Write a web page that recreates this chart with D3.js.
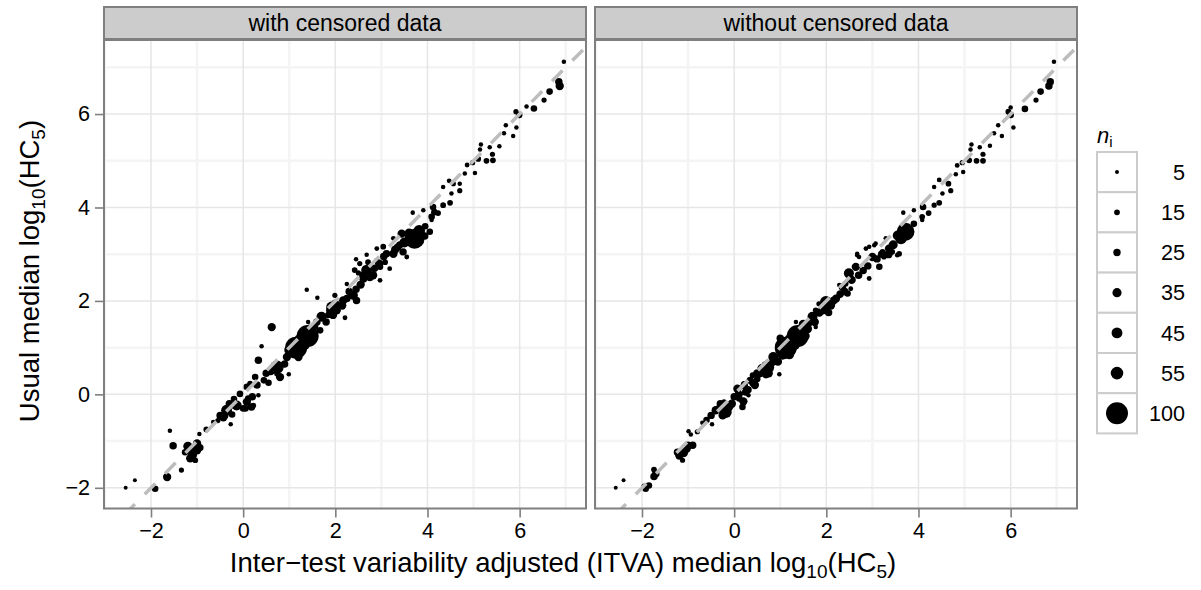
<!DOCTYPE html>
<html><head><meta charset="utf-8">
<script src="https://cdn.jsdelivr.net/npm/d3@7"></script>
<style>body{margin:0;background:#fff;} svg text{font-family:"Liberation Sans",Arial,Helvetica,sans-serif;}</style>
</head><body><svg id="c" width="1201" height="590"></svg>
<script>
const panels = ["with censored data", "without censored data"];
const xTicks = [-2, 0, 2, 4, 6];
const yTicks = [-2, 0, 2, 4, 6];
const xMinor = [-3, -1, 1, 3, 5, 7];
const yMinor = [-1, 1, 3, 5, 7];
const sizeBreaks = [5, 15, 25, 35, 45, 55, 100];

const withX = [-2.55,-2.35,-1.91,-1.65,-1.34,-1.59,-1.52,-0.95,-1.20,-1.09,-1.00,-1.15,-1.04,-0.94,-1.26,-0.65,-0.27,0.33,0.99,-0.36,-0.14,0.08,0.18,-0.50,-0.24,-0.55,0.08,0.26,0.73,0.22,0.15,0.33,0.40,0.62,0.73,0.80,1.15,1.40,1.41,1.67,1.38,1.61,1.70,1.92,2.03,2.21,2.25,2.17,2.39,2.46,2.45,2.50,2.68,2.68,2.61,2.82,2.97,2.90,3.04,3.11,3.26,3.18,3.26,3.44,3.47,3.55,3.72,3.82,3.94,4.05,4.09,3.68,3.91,4.09,4.23,4.12,4.34,4.49,4.52,4.70,4.70,4.56,4.34,4.47,4.81,5.03,4.86,4.98,5.10,5.28,5.42,5.41,5.16,5.14,5.35,5.56,5.66,5.70,5.86,5.93,5.92,5.99,6.15,6.31,6.53,6.65,6.85,6.87,6.96,2.42,2.53,2.71,2.90,3.08,2.97,1.88,2.06,1.99,-0.07,0.11,-0.18,-0.43,0.95,1.55,1.85,2.30,2.85,3.40,0.50,-0.80,0.00,
  0.30,0.45,0.60,0.90,1.00,1.20,1.28,1.45,1.55,1.80,1.95,2.15,2.25,2.55,2.60,2.75,2.95,3.05,3.30,3.50,3.60,3.95,4.15,-0.40,-0.20,0.05,-1.10,-1.00,-1.18,
  0.20,0.55,1.60,2.00,2.45,3.35,-0.30];
const withY = [-2.00,-1.84,-2.02,-1.77,-1.62,-0.78,-1.10,-0.85,-1.11,-1.20,-1.05,-1.37,-1.41,-1.14,-1.24,-0.59,-0.64,-0.02,0.43,-0.34,-0.24,-0.16,-0.27,-0.45,-0.43,-0.56,0.16,0.37,0.44,-0.24,0.23,0.73,1.03,1.44,0.58,0.37,1.00,1.25,1.55,1.37,2.24,2.07,1.66,1.87,1.80,1.64,2.36,2.01,2.12,2.01,2.89,2.60,2.99,2.66,2.48,2.55,2.44,3.12,3.16,3.01,3.01,2.69,3.34,3.44,3.05,2.94,3.33,3.50,3.39,3.48,3.73,3.89,3.94,3.80,3.88,4.01,4.05,4.10,4.30,4.36,4.51,4.51,4.44,4.57,4.73,4.74,4.91,4.96,5.04,5.00,5.01,5.14,5.35,5.24,5.29,5.31,5.59,5.76,5.53,5.71,6.05,5.98,6.16,6.12,6.30,6.48,6.69,6.60,7.12,2.66,2.80,2.83,2.87,2.83,2.73,1.80,1.91,2.12,0.01,-0.09,-0.24,-0.49,0.80,1.45,1.70,2.20,2.70,3.20,0.45,-0.75,-0.30,
  0.20,0.30,0.50,0.65,0.95,0.80,1.12,1.40,1.30,1.55,1.70,1.90,2.05,2.35,2.55,2.50,2.80,2.95,3.10,3.25,3.45,3.60,3.90,-0.45,-0.10,-0.30,-1.30,-1.20,-1.18,
  -0.05,0.25,1.55,1.95,2.25,3.15,-0.20];
const withN = [5,5,20,30,12,8,25,8,35,40,30,30,15,25,20,8,8,8,8,45,40,30,25,25,20,12,20,20,12,15,15,25,8,30,60,30,100,100,8,20,8,8,40,45,30,10,8,30,35,25,8,12,8,45,30,30,10,10,15,25,30,10,10,30,25,10,90,50,25,20,8,8,8,20,15,20,15,15,8,12,8,12,8,10,8,8,10,12,15,15,15,12,8,8,8,8,8,8,8,8,12,20,8,20,12,20,25,30,8,15,12,15,12,15,20,25,20,12,20,20,25,30,30,25,20,25,25,25,25,15,20,
  25,20,30,25,40,30,80,35,20,25,30,30,25,30,25,25,30,25,30,40,35,20,20,25,20,20,35,30,30,
  25,20,25,25,25,25,25];

const withoutX = [-2.57,-2.40,-1.92,-1.95,-1.74,-1.74,-0.99,-0.94,-1.19,-1.05,-0.90,-1.12,-1.23,-0.69,-0.48,-0.40,-0.18,-0.11,-0.22,0.18,0.07,0.22,0.31,0.40,0.69,0.98,0.11,0.21,0.40,0.72,0.94,1.12,1.38,1.34,1.70,1.77,1.99,1.92,2.21,2.46,2.42,2.28,2.49,2.64,2.71,2.93,2.67,3.00,3.15,2.93,3.04,3.22,3.36,3.58,3.29,3.72,3.62,4.08,3.67,3.90,4.08,4.22,4.10,4.34,4.45,4.52,4.70,4.65,4.34,4.45,4.81,4.97,4.84,4.95,5.10,5.26,5.40,5.40,5.15,5.13,5.33,5.55,5.64,5.73,5.81,6.06,5.95,6.00,6.00,6.31,6.55,6.65,6.86,6.83,6.94,2.67,2.86,3.07,3.25,3.43,3.54,2.28,2.53,1.77,1.84,-0.30,0.00,0.50,1.05,1.50,0.55,-0.60,0.30,0.85,1.60,2.10,2.35,2.80,3.20,-0.80,
  -0.50,-0.30,-0.05,0.10,0.25,0.35,0.50,0.60,0.85,0.95,1.00,1.20,1.26,1.50,1.60,1.85,2.00,2.15,2.30,2.55,2.70,2.90,3.10,3.45,3.55,3.90,-1.10,-1.00,-1.70,-1.85,
  0.20,0.45,0.75,1.55,1.75,2.05,-0.25,2.40,3.35];
const withoutY = [-2.00,-1.84,-2.02,-1.97,-1.76,-1.61,-0.79,-0.86,-1.31,-1.16,-1.09,-1.41,-1.24,-0.61,-0.64,-0.34,-0.38,-0.27,-0.16,-0.27,0.12,0.19,-0.02,0.41,0.44,0.43,-0.09,0.23,0.24,0.58,1.05,1.00,1.25,1.55,1.66,1.44,1.98,1.80,2.05,2.16,2.37,2.34,2.59,2.73,2.94,2.48,3.01,2.94,2.73,3.16,3.19,3.05,3.12,3.01,3.34,3.48,3.34,3.73,3.89,3.94,3.80,3.88,4.01,4.05,4.10,4.30,4.36,4.51,4.44,4.59,4.71,4.76,4.90,4.96,5.01,5.00,5.00,5.14,5.35,5.24,5.29,5.32,5.59,5.76,5.53,5.71,6.05,5.98,6.14,6.11,6.30,6.48,6.69,6.60,7.12,2.98,3.12,3.23,2.94,3.05,2.98,2.12,2.26,1.80,1.94,-0.30,-0.05,0.33,0.85,1.35,0.45,-0.55,0.10,0.70,1.50,1.90,2.30,2.65,3.00,-0.80,
  -0.45,-0.20,-0.20,0.00,0.05,0.30,0.45,0.55,0.80,0.70,1.20,0.85,1.12,1.50,1.40,1.75,1.85,2.00,2.15,2.45,2.55,2.75,2.90,3.20,3.40,3.65,-1.25,-1.10,-1.70,-1.95,
  -0.15,0.20,0.45,1.25,1.55,1.75,-0.45,2.20,3.00];
const withoutN = [5,5,20,15,25,15,8,8,30,40,25,12,25,8,8,30,50,30,12,20,30,25,8,15,35,8,20,12,20,60,8,100,100,8,40,8,50,30,30,20,15,8,40,30,8,10,8,30,20,8,8,15,30,15,8,80,50,8,8,8,15,15,20,12,15,8,12,15,8,10,8,8,10,12,15,15,15,12,8,8,8,8,8,8,8,8,15,20,8,20,12,20,25,25,8,8,10,8,12,15,10,15,10,15,12,35,25,20,40,35,30,20,25,30,30,30,25,25,25,12,
  25,25,30,30,25,25,30,35,40,30,25,35,80,35,30,30,30,30,25,30,25,25,25,35,40,20,35,30,25,20,
  30,30,30,30,30,25,30,25,30];

const panelX = [withX, withoutX], panelY = [withY, withoutY], panelN = [withN, withoutN];

const svg = d3.select('#c');
const W = 482, H = 468.5, panelLeft = [104, 595], panelTop = 40;
const x = d3.scaleLinear().domain([-3.02, 7.44]).range([0, W]);
const y = d3.scaleLinear().domain([-2.443, 7.585]).range([H, 0]);
const r = d3.scaleLinear().domain([5, 55, 100]).range([2, 6.3, 11]);
const fmt = d => d3.format("d")(d);

svg.append("defs").append("clipPath").attr("id", "clipP")
  .append("rect").attr("width", W).attr("height", H);

panels.forEach((name, pi) => {
  const g = svg.append("g").attr("transform", `translate(${panelLeft[pi]},${panelTop})`);
  g.append("rect").attr("width", W).attr("height", H).attr("fill", "#fff");
  const grid = g.append("g").attr("clip-path", "url(#clipP)");
  grid.selectAll(".vminor").data(xMinor).join("line")
    .attr("x1", d => x(d)).attr("x2", d => x(d)).attr("y1", 0).attr("y2", H)
    .attr("stroke", "#f4f4f4").attr("stroke-width", 2.5);
  grid.selectAll(".hminor").data(yMinor).join("line")
    .attr("y1", d => y(d)).attr("y2", d => y(d)).attr("x1", 0).attr("x2", W)
    .attr("stroke", "#f4f4f4").attr("stroke-width", 2.5);
  grid.selectAll(".vmajor").data(xTicks).join("line")
    .attr("x1", d => x(d)).attr("x2", d => x(d)).attr("y1", 0).attr("y2", H)
    .attr("stroke", "#e6e6e6").attr("stroke-width", 1.5);
  grid.selectAll(".hmajor").data(yTicks).join("line")
    .attr("y1", d => y(d)).attr("y2", d => y(d)).attr("x1", 0).attr("x2", W)
    .attr("stroke", "#e6e6e6").attr("stroke-width", 1.5);

  const idx = d3.range(panelX[pi].length).sort((a, b) => panelN[pi][b] - panelN[pi][a]);
  const pts = g.append("g").attr("clip-path", "url(#clipP)");
  pts.selectAll("circle").data(idx).join("circle")
    .attr("cx", i => x(panelX[pi][i])).attr("cy", i => y(panelY[pi][i]))
    .attr("r", i => r(panelN[pi][i])).attr("fill", "#000");

  const dom = x.domain();
  g.append("line").attr("clip-path", "url(#clipP)")
    .attr("x1", x(dom[0])).attr("y1", y(dom[0])).attr("x2", x(dom[1])).attr("y2", y(dom[1]))
    .attr("stroke", "#bdbdbd").attr("stroke-width", 3.5).attr("stroke-dasharray", "15,14");

  g.append("rect").attr("width", W).attr("height", H).attr("fill", "none")
    .attr("stroke", "#7f7f7f").attr("stroke-width", 2);

  // strip
  g.append("rect").attr("x", 0).attr("y", -33).attr("width", W).attr("height", 32)
    .attr("fill", "#cccccc").attr("stroke", "#7f7f7f").attr("stroke-width", 2);
  g.append("text").attr("x", W / 2).attr("y", -9).attr("text-anchor", "middle")
    .attr("font-size", 23).attr("fill", "#000").text(name);

  // x axis
  const ax = g.append("g").attr("transform", `translate(0,${H})`)
    .call(d3.axisBottom(x).tickValues(xTicks).tickSize(9).tickPadding(5).tickFormat(fmt));
  ax.select(".domain").remove();
  ax.selectAll(".tick line").attr("stroke", "#7f7f7f").attr("stroke-width", 1.6);
  ax.selectAll(".tick text").attr("font-size", 21.6).attr("fill", "#000")
    .attr("font-family", "Liberation Sans, Arial, sans-serif");

  if (pi === 0) {
    const ay = g.append("g")
      .call(d3.axisLeft(y).tickValues(yTicks).tickSize(9).tickPadding(5).tickFormat(fmt));
    ay.select(".domain").remove();
    ay.selectAll(".tick line").attr("stroke", "#7f7f7f").attr("stroke-width", 1.6);
    ay.selectAll(".tick text").attr("font-size", 21.6).attr("fill", "#000")
      .attr("font-family", "Liberation Sans, Arial, sans-serif");
  }
});

// axis titles
const xt = svg.append("text").attr("x", 563).attr("y", 572).attr("text-anchor", "middle")
  .attr("font-size", 27.5).attr("fill", "#000");
xt.append("tspan").text("Inter\u2212test variability adjusted (ITVA) median log");
xt.append("tspan").attr("font-size", 19).attr("dy", 6).text("10");
xt.append("tspan").attr("dy", -6).text("(HC");
xt.append("tspan").attr("font-size", 19).attr("dy", 6).text("5");
xt.append("tspan").attr("dy", -6).text(")");

const yt = svg.append("text").attr("transform", "translate(39,271) rotate(-90)")
  .attr("text-anchor", "middle").attr("font-size", 27.5).attr("fill", "#000");
yt.append("tspan").text("Usual median log");
yt.append("tspan").attr("font-size", 19).attr("dy", 6).text("10");
yt.append("tspan").attr("dy", -6).text("(HC");
yt.append("tspan").attr("font-size", 19).attr("dy", 6).text("5");
yt.append("tspan").attr("dy", -6).text(")");

// legend
const lg = svg.append("g");
const lt = lg.append("text").attr("x", 1097).attr("y", 143).attr("font-size", 22).attr("fill", "#000");
lt.append("tspan").attr("font-style", "italic").text("n");
lt.append("tspan").attr("font-size", 15).attr("dy", 4).text("i");
const keyH = 40.2, keyTop = 152;
const keys = lg.selectAll(".key").data(sizeBreaks).join("g")
  .attr("transform", (d, i) => `translate(1097,${keyTop + i * keyH})`);
keys.append("rect").attr("width", 40).attr("height", keyH).attr("fill", "#fff")
  .attr("stroke", "#cccccc").attr("stroke-width", 2);
keys.append("circle").attr("cx", 20).attr("cy", keyH / 2).attr("r", d => r(d)).attr("fill", "#000");
keys.append("text").attr("x", 88).attr("y", keyH / 2 + 7.7).attr("text-anchor", "end")
  .attr("font-size", 21.6).attr("fill", "#000").text(d => d);
</script></body></html>
